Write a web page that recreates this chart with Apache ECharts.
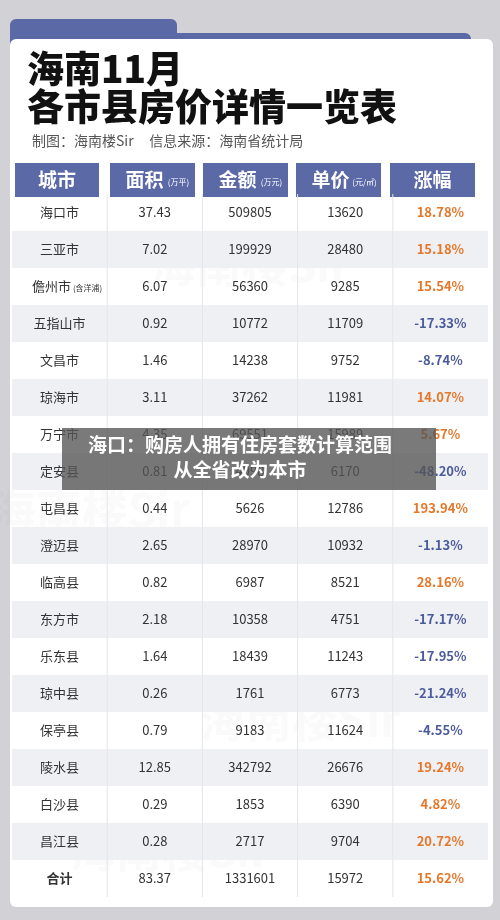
<!DOCTYPE html>
<html><head><meta charset="utf-8">
<script src="https://cdn.jsdelivr.net/npm/echarts@6/dist/echarts.min.js"></script>
<style>html,body{margin:0;padding:0;background:#d2d2d6}#c{width:500px;height:920px}</style>
</head><body><div id="c"></div>
<script>
var columns = ['城市','面积','金额','单价','涨幅'];
var units = ['','(万平)','(万元)','(元/㎡)',''];
var cities = ['海口市','三亚市','儋州市','五指山市','文昌市','琼海市','万宁市','定安县','屯昌县','澄迈县','临高县','东方市','乐东县','琼中县','保亭县','陵水县','白沙县','昌江县','合计'];
var area = [37.43,7.02,6.07,0.92,1.46,3.11,4.35,0.81,0.44,2.65,0.82,2.18,1.64,0.26,0.79,12.85,0.29,0.28,83.37];
var amount = [509805,199929,56360,10772,14238,37262,69551,4998,5626,28970,6987,10358,18439,1761,9183,342792,1853,2717,1331601];
var price = [13620,28480,9285,11709,9752,11981,15989,6170,12786,10932,8521,4751,11243,6773,11624,26676,6390,9704,15972];
var change = [18.78,15.18,15.54,-17.33,-8.74,14.07,5.67,-48.20,193.94,-1.13,28.16,-17.17,-17.95,-21.24,-4.55,19.24,4.82,20.72,15.62];

var cells = [];
cities.forEach(function(c,i){
  cells.push([0,i,c]);
  cells.push([1,i,area[i].toFixed(2)]);
  cells.push([2,i,String(amount[i])]);
  cells.push([3,i,String(price[i])]);
  cells.push([4,i,change[i].toFixed(2)+'%']);
});
var chart = echarts.init(document.getElementById('c'));
var graphics = [
  {type:'rect',shape:{x:10,y:19,width:167,height:30,r:[6,6,0,0]},style:{fill:'#5b69a6'}},
  {type:'rect',shape:{x:10,y:33,width:461,height:20,r:[6,6,0,0]},style:{fill:'#5b69a6'}},
  {type:'rect',shape:{x:10,y:39,width:483,height:868,r:6},style:{fill:'#ffffff'}},
  {type:'text',left:27,top:50,style:{text:'海南11月',font:'900 37px "Noto Sans CJK SC"',fill:'#111'}},
  {type:'text',left:27,top:88,style:{text:'各市县房价详情一览表',font:'900 37px "Noto Sans CJK SC"',fill:'#111'}},
  {type:'text',left:32,top:134,style:{text:'制图：海南楼Sir     信息来源：海南省统计局',font:'14px "Noto Sans CJK SC"',fill:'#555'}}
];
var hx = [[15,99],[110,195],[203,288],[296,381],[390,475]];
columns.forEach(function(c,i){
  graphics.push({type:'rect',shape:{x:hx[i][0],y:163,width:hx[i][1]-hx[i][0],height:34},style:{fill:'#5b69a6'}});
  var w = hx[i][1]-hx[i][0];
  graphics.push({type:'text',x:hx[i][0]+(units[i]?w/2-8:w/2),y:180,style:{text:c,font:'bold 19px "Noto Sans CJK SC"',fill:'#fff',align:'center',verticalAlign:'middle'}});
  if(units[i]) graphics.push({type:'text',x:hx[i][0]+w/2+26,y:182,style:{text:units[i],font:'8px "Noto Sans CJK SC"',fill:'#fff',align:'center',verticalAlign:'middle'}});
});
[[250,265],[90,510],[300,720],[170,850]].forEach(function(p){
  graphics.push({type:'text',x:p[0],y:p[1],style:{text:'海南楼Sir',font:'bold 46px "Noto Sans CJK SC"',fill:'rgba(120,120,140,0.04)',align:'center',verticalAlign:'middle'}});
});
graphics.push({type:'rect',shape:{x:62,y:428,width:374,height:62},style:{fill:'rgba(85,85,85,0.78)'},z:100});
graphics.push({type:'text',x:240,y:445,style:{text:'海口：购房人拥有住房套数计算范围',font:'bold 19px "Noto Sans CJK SC"',fill:'#fff',align:'center',verticalAlign:'middle'},z:101});
graphics.push({type:'text',x:240,y:470,style:{text:'从全省改为本市',font:'bold 19px "Noto Sans CJK SC"',fill:'#fff',align:'center',verticalAlign:'middle'},z:101});

chart.setOption({
  animation:false,
  graphic:graphics,
  grid:{left:12,width:476,top:194,height:703},
  xAxis:{type:'category',data:columns,show:false},
  yAxis:{type:'category',data:cities,inverse:true,show:false},
  series:[{
    type:'custom',
    data:cells,
    renderItem:function(params,api){
      var col=api.value(0), row=api.value(1);
      var p=api.coord([col,row]);
      var sz=api.size([1,1]);
      var txt=cells[params.dataIndex][2];
      var children=[];
      if(row%2===1){
        children.push({type:'rect',shape:{x:p[0]-sz[0]/2,y:p[1]-sz[1]/2,width:sz[0],height:sz[1]},style:{fill:'#eff0f4'}});
      }
      if(col>0){
        children.push({type:'line',shape:{x1:p[0]-sz[0]/2,y1:p[1]-sz[1]/2,x2:p[0]-sz[0]/2,y2:p[1]+sz[1]/2},style:{stroke:'#e4e5ea',lineWidth:1}});
      }
      var color='#333', weight='normal';
      if(col===4){ color = change[row]>=0 ? '#e5772a' : '#4c5b9b'; weight='bold'; }
      if(row===cities.length-1 && col===0) weight='bold';
      if(col===0 && txt==='儋州市'){
        children.push({type:'text',style:{text:'儋州市',x:p[0]-8,y:p[1],font:'13px "Noto Sans CJK SC"',fill:color,align:'center',verticalAlign:'middle'}});
        children.push({type:'text',style:{text:'(含洋浦)',x:p[0]+28,y:p[1]+1,font:'8px "Noto Sans CJK SC"',fill:color,align:'center',verticalAlign:'middle'}});
      } else {
        children.push({type:'text',style:{text:txt,x:p[0],y:p[1],font:weight+' 13px "Noto Sans CJK SC"',fill:color,align:'center',verticalAlign:'middle'}});
      }
      return {type:'group',children:children};
    }
  }]
});
</script></body></html>
